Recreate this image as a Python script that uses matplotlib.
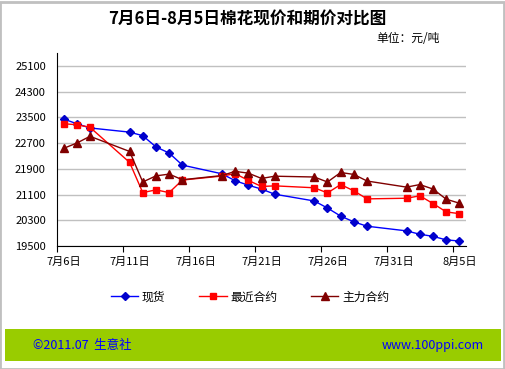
import matplotlib
matplotlib.use("Agg")
from matplotlib import pyplot as plt
from matplotlib.patches import Rectangle
import pandas as pd

plt.rcParams['font.family'] = ['Noto Sans CJK SC', 'DejaVu Sans']

dates = ["2011-07-06", "2011-07-07", "2011-07-08", "2011-07-11", "2011-07-12", "2011-07-13",
         "2011-07-14", "2011-07-15", "2011-07-18", "2011-07-19", "2011-07-20", "2011-07-21",
         "2011-07-22", "2011-07-25", "2011-07-26", "2011-07-27", "2011-07-28", "2011-07-29",
         "2011-08-01", "2011-08-02", "2011-08-03", "2011-08-04", "2011-08-05"]
spot = [23450, 23300, 23170, 23040, 22930, 22580, 22390, 22015, 21745, 21530, 21390, 21270,
        21110, 20900, 20680, 20430, 20250, 20115, 19970, 19865, 19800, 19690, 19655]
nearest = [23300, 23270, 23190, 22100, 21160, 21245, 21160, 21550, 21675, 21750, 21540, 21350,
           21370, 21310, 21150, 21410, 21215, 20965, 20985, 21060, 20820, 20560, 20505]
main = [22535, 22700, 22910, 22440, 21490, 21680, 21735, 21560, 21690, 21820, 21765, 21600,
        21670, 21645, 21490, 21785, 21725, 21520, 21330, 21410, 21270, 20955, 20830]
tick_days = ["2011-07-06", "2011-07-11", "2011-07-16", "2011-07-21", "2011-07-26", "2011-07-31", "2011-08-05"]
tick_labels = ["7月6日", "7月11日", "7月16日", "7月21日", "7月26日", "7月31日", "8月5日"]

x = pd.to_datetime(dates) + pd.Timedelta(hours=12)
ticks = pd.to_datetime(tick_days)

fig = plt.figure(figsize=(5.06, 3.69), dpi=100)
ax = fig.add_axes([57 / 506, 1 - 246 / 369, 409 / 506, 193 / 369])

ax.plot(x, spot, color='#0000ff', lw=1, marker='D', ms=4, mfc='#0000cc', mec='#0000cc', label='现货')
ax.plot(x, nearest, color='#ff0000', lw=1, marker='s', ms=5, mfc='#ff0000', mec='#ff0000', label='最近合约')
ax.plot(x, main, color='#800000', lw=1, marker='^', ms=6, mfc='#800000', mec='#800000', label='主力合约')

ax.set_xlim(pd.Timestamp("2011-07-06"), pd.Timestamp("2011-08-06"))
ax.set_ylim(19500, 25500)
ax.set_yticks(range(19500, 25500, 800))
ax.yaxis.grid(True, color='#c0c0c0', lw=1)
ax.set_axisbelow(True)
ax.tick_params(axis='y', length=0, labelsize=8, pad=8)

# ticks sit on day boundaries, labels centred on the day
ax.set_xticks(ticks)
ax.set_xticklabels([])
ax.set_xticks(ticks + pd.Timedelta(hours=12), minor=True)
ax.set_xticklabels(tick_labels, minor=True)
ax.tick_params(axis='x', which='major', length=4, color='black')
ax.tick_params(axis='x', which='minor', length=0, labelsize=8, pad=8)

for s in ['top', 'right']:
    ax.spines[s].set_visible(False)

fig.text(247 / 506, 1 - 20 / 369, "7月6日-8月5日棉花现价和期价对比图", ha='center', va='center',
         fontsize=12, fontweight='bold')
fig.text(440 / 506, 1 - 39 / 369, "单位：元/吨", ha='right', va='center', fontsize=8.5)

fig.legend(loc='center', bbox_to_anchor=(250 / 506, 1 - 297 / 369), ncol=3, frameon=False,
           fontsize=8.5, handlelength=2.3, columnspacing=2.9, handletextpad=0.3)

fig.patches.append(Rectangle((5 / 506, 1 - 361 / 369), 496 / 506, 32 / 369, transform=fig.transFigure,
                             facecolor='#99cc00', edgecolor='none'))
fig.patches.append(Rectangle((0.5 / 506, 0.5 / 369), 504 / 506, 367 / 369, transform=fig.transFigure,
                             facecolor='none', edgecolor='#c0c0c0', lw=2))
fig.text(33 / 506, 1 - 345 / 369, "©2011.07  生意社", ha='left', va='center', fontsize=9, color='#0000ff')
fig.text(484 / 506, 1 - 345 / 369, "www.100ppi.com", ha='right', va='center', fontsize=9, color='#0000ff')

fig.savefig("out.png", dpi=100)
